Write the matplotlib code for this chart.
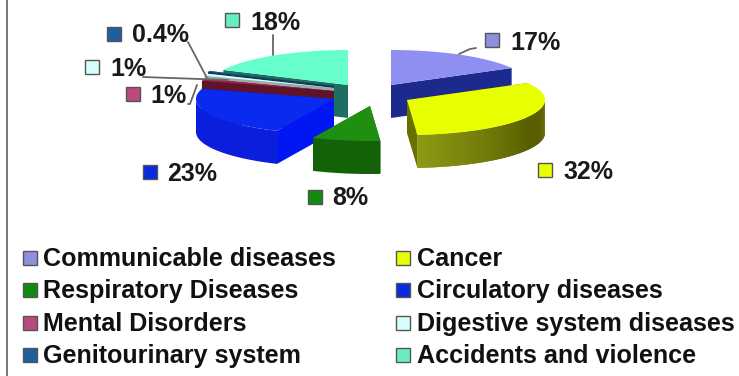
import numpy as np
import matplotlib
matplotlib.use('Agg')
import matplotlib.pyplot as plt
from matplotlib.patches import Polygon, Rectangle
from matplotlib.colors import to_rgb

# Causes of death, percentages
causes = ['Communicable diseases', 'Cancer', 'Respiratory Diseases', 'Circulatory diseases',
          'Mental Disorders', 'Digestive system diseases', 'Genitourinary system', 'Accidents and violence']
shares = [17, 32, 8, 23, 1, 1, 0.4, 18]
shareLabels = ['17%', '32%', '8%', '23%', '1%', '1%', '0.4%', '18%']

# Styling per slice
topColors = ['#8F8FF2', '#E8FF00', '#1F8F12', '#0A2AF0', '#A01C50', '#D5FFFF', '#1A5F8A', '#66FFCC']
cutColors = ['#1C2A8E', '#6A7000', '#145F0A', '#0016F2', '#5E1426', '#9AAAAA', '#123A50', '#1E6E64']
rimColors = ['#1C2A8E', '#6A7000', '#136208', '#0A1EDC', '#5E1426', '#9AAAAA', '#123A50', '#1E6E64']
legendColors = ['#8F8FDF', '#E8FF00', '#118A10', '#0A2AE0', '#B84A80', '#D5FFFF', '#1F5FA0', '#66EEC0']

# Apex of every exploded slice on the canvas
apexX = [391, 407, 370, 334, 334, 334, 334, 348]
apexY = [85, 100, 106, 99, 91, 88, 86, 85]
rx = 138
ry = 35
depth = 33

# Data label layout: marker box and text baseline
labelBoxX = [492, 545, 315, 150, 133, 92, 114, 232]
labelBoxY = [40, 170, 197, 172, 94, 67, 34, 20]
labelTextX = [510, 563, 332, 167, 150, 110, 132, 250]
labelTextY = [50, 179, 205, 181, 103, 76, 42, 30]

# Leader lines from slices to labels
leaderX = [[459, 470, 476], [273, 273], [143, 228], [188, 190, 197], [188, 207]]
leaderY = [[54, 49, 48], [35, 55], [77, 80], [104, 104, 85], [42, 78]]

# Legend layout
legendBoxX = [30, 403, 30, 403, 30, 403, 30, 403]
legendTextX = [43, 417, 43, 417, 43, 417, 43, 417]
legendY = [258, 258, 290, 290, 323, 323, 355, 355]


def rim(cx, cy, angle):
    return cx + rx*np.sin(angle), cy - ry*np.cos(angle)


def cancerWallColor(f):
    # lighter towards the cut corner, darkest past the middle
    light = np.array(to_rgb('#8E9A14'))
    dark = np.array(to_rgb('#5A5E00'))
    far = np.array(to_rgb(rimColors[1]))
    if f > 0.6:
        return dark + (far - dark)*(f - 0.6)/0.4
    return light + (dark - light)*min(f*2.0, 1)


def drawSlice(ax, i, start, end, z):
    cx = apexX[i]
    cy = apexY[i]
    t = np.linspace(start, end, 120)
    xs, ys = rim(cx, cy, t)

    # cut faces go first, the top covers whatever is behind
    for a in [start, end]:
        x, y = rim(cx, cy, a)
        ax.add_patch(Polygon([(cx, cy), (x, y), (x, y + depth), (cx, cy + depth)],
                             fc=cutColors[i], ec='none', zorder=z))

    # front of the outer wall
    front = np.cos(t) <= 0
    if i == 1:
        for k in range(len(t) - 1):
            if not front[k]:
                continue
            j = min(k + 2, len(t) - 1)
            f = (t[-1] - t[k])/(t[-1] - t[0])
            ax.add_patch(Polygon([(xs[k], ys[k]), (xs[j], ys[j]),
                                  (xs[j], ys[j] + depth), (xs[k], ys[k] + depth)],
                                 fc=cancerWallColor(f), ec='none', zorder=z + 0.1))
    elif front.any():
        upper = np.column_stack([xs[front], ys[front]])
        lower = np.column_stack([xs[front], ys[front] + depth])[::-1]
        ax.add_patch(Polygon(np.vstack([upper, lower]), fc=rimColors[i], ec='none', zorder=z + 0.1))

    ax.add_patch(Polygon(np.vstack([[cx, cy], np.column_stack([xs, ys])]),
                         fc=topColors[i], ec='none', zorder=z + 0.2))


fig = plt.figure(figsize=(7.39, 3.76), dpi=100)
ax = fig.add_axes([0, 0, 1, 1])
ax.set_xlim(0, 739)
ax.set_ylim(376, 0)
ax.axis('off')

# frame on the left side
ax.plot([7, 7], [0, 376], color='#777777', lw=1.4, zorder=1)

fractions = np.array(shares)/sum(shares)
edges = np.concatenate([[0], np.cumsum(fractions)])*2*np.pi

# back slices first, front slices last
order = [0, 7, 6, 5, 4, 3, 2, 1]
for z, i in enumerate(order):
    drawSlice(ax, i, edges[i], edges[i + 1], 2 + z)

for lx, ly in zip(leaderX, leaderY):
    ax.plot(lx, ly, color='#666666', lw=1.3, zorder=12, solid_capstyle='round')

for i in range(len(shares)):
    ax.add_patch(Rectangle((labelBoxX[i] - 7, labelBoxY[i] - 7), 14, 14, fc=legendColors[i],
                           ec='#555555', lw=1, zorder=13))
    ax.text(labelTextX[i], labelTextY[i], shareLabels[i], family='Liberation Sans', weight='bold',
            fontsize=18, color='#1A1A1A', va='baseline', ha='left', zorder=13)

for i in range(len(causes)):
    ax.add_patch(Rectangle((legendBoxX[i] - 7, legendY[i] - 7), 14, 14, fc=legendColors[i],
                           ec='#555555', lw=1, zorder=13))
    ax.text(legendTextX[i], legendY[i] + 8, causes[i], family='Liberation Sans', weight='bold',
            fontsize=18.1, color='#111111', va='baseline', ha='left', zorder=13)

fig.savefig('out.png', dpi=100)
